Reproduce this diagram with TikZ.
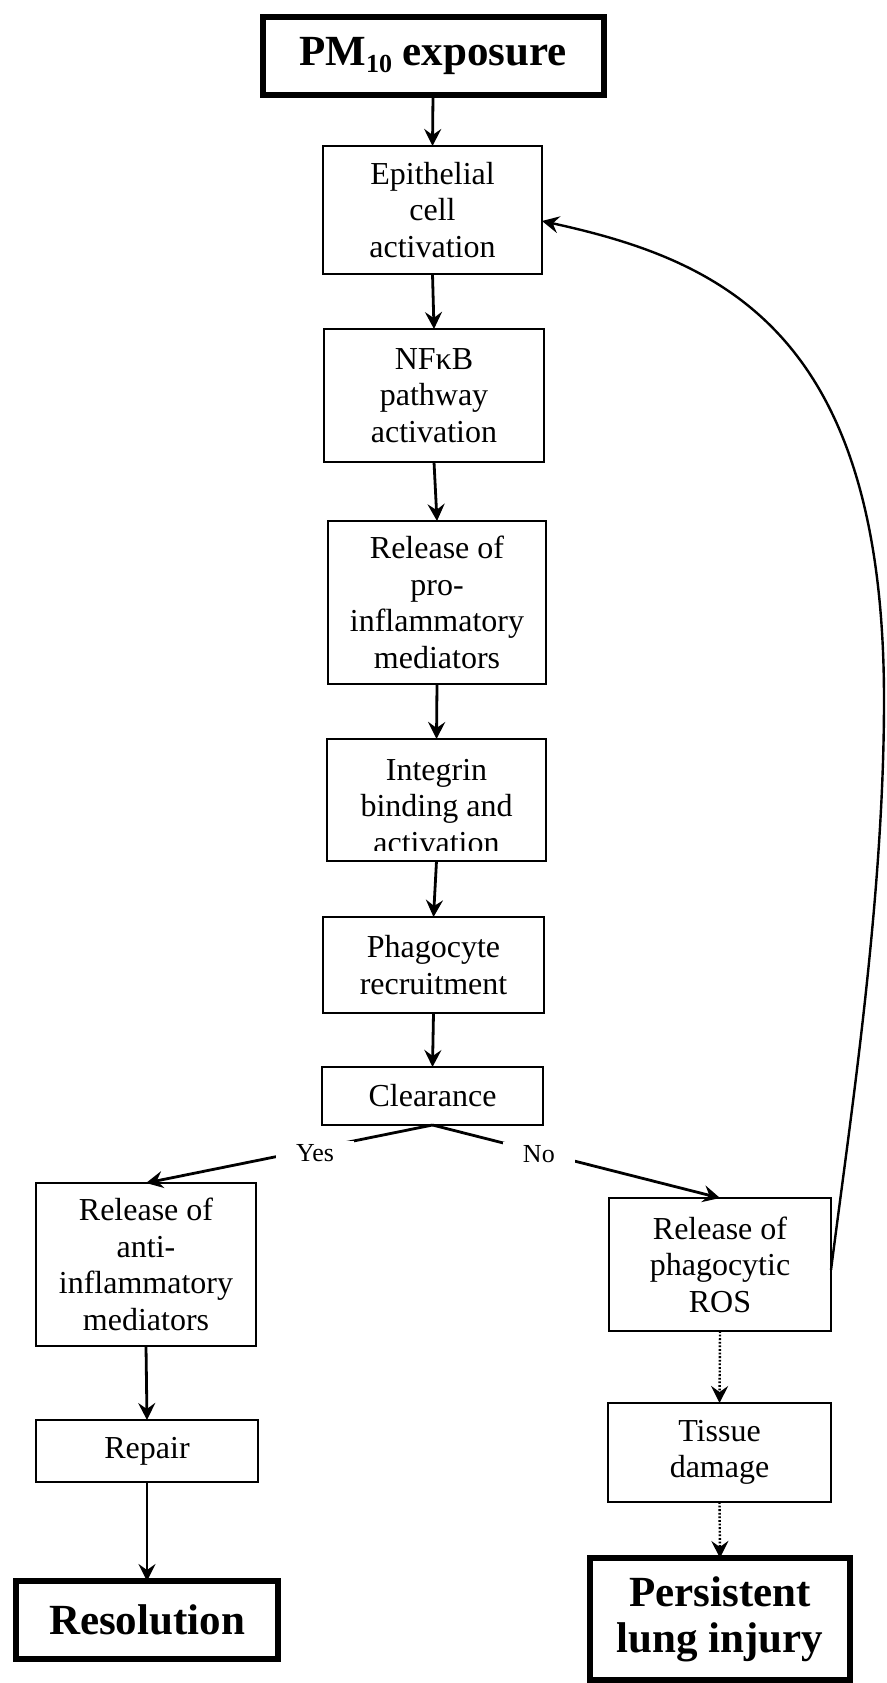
\documentclass[tikz,border=0pt]{standalone}
\usepackage{fontspec}
\setmainfont{Liberation Serif}
\usetikzlibrary{arrows.meta}
\tikzset{
  box/.style={draw, line width=2.6pt, inner sep=0pt, outer sep=0pt, align=center,
    font=\fontsize{32}{36.5}\selectfont},
  bigbox/.style={draw, line width=6pt, inner sep=0pt, outer sep=0pt, align=center,
    font=\fontsize{43}{46}\selectfont\bfseries},
  plaintext/.style={inner sep=0pt, outer sep=0pt, align=center,
    font=\fontsize{32}{36.5}\selectfont},
  conn/.style={line width=2.8pt, -{Stealth[length=17pt,width=17pt,inset=6pt]}},
  dotconn/.style={line width=2.4pt, dash pattern=on 1.8pt off 1.8pt,
    -{Stealth[length=17pt,width=17pt,inset=6pt]}},
  curveconn/.style={line width=2.4pt, -{Stealth[length=17pt,width=17pt,inset=6pt]}},
  lbl/.style={fill=white, inner xsep=20pt, inner ysep=3pt, font=\fontsize{26}{28}\selectfont},
}
\begin{document}
\begin{tikzpicture}[x=1pt, y=-1pt]
\useasboundingbox (0,0) rectangle (886,1683);

% central column
\node[bigbox, minimum width=341pt, minimum height=78pt] (pm) at (433,56.5)
  {PM\raisebox{-6pt}{\fontsize{26}{26}\selectfont 10} exposure};
\node[box, minimum width=219pt, minimum height=128pt] (epi) at (432.5,210)
  {Epithelial\\cell\\activation};
\node[box, minimum width=220pt, minimum height=133pt] (nfkb) at (434,395.5)
  {NF\char"03BA B\\pathway\\activation};
\node[box, minimum width=218pt, minimum height=163pt] (pro) at (437,602.5)
  {Release of\\pro-\\inflammatory\\mediators};
\node[box, minimum width=219pt, minimum height=122pt] (integ) at (436.5,800) {};
\node[plaintext] (integt) at (436.5,806.5) {Integrin\\binding and\\activation};
\fill[white] ([xshift=1.5pt,yshift=1.4pt]integ.south west) rectangle ([xshift=-1.5pt,yshift=10pt]integ.south east);
\node[box, minimum width=221pt, minimum height=96pt] (phago) at (433.5,965)
  {Phagocyte\\recruitment};
\node[box, minimum width=221pt, minimum height=58pt] (clear) at (432.5,1096)
  {Clearance};

% left column
\node[box, minimum width=220pt, minimum height=163pt] (anti) at (146,1264.5)
  {Release of\\anti-\\inflammatory\\mediators};
\node[box, minimum width=222pt, minimum height=62pt] (repair) at (147,1451)
  {Repair};
\node[bigbox, minimum width=262pt, minimum height=78pt] (resol) at (147,1620)
  {Resolution};

% right column
\node[box, minimum width=222pt, minimum height=133pt] (ros) at (720,1264.5)
  {Release of\\phagocytic\\ROS};
\node[box, minimum width=223pt, minimum height=99pt] (tissue) at (719.5,1452.5)
  {Tissue\\damage};
\node[bigbox, minimum width=260pt, minimum height=122pt] (persist) at (720,1619)
  {Persistent\\lung injury};

% connectors
\draw[conn] (pm.south) -- (epi.north);
\draw[conn] (epi.south) -- (nfkb.north);
\draw[conn] (nfkb.south) -- (pro.north);
\draw[conn] (pro.south) -- (integ.north);
\draw[conn] (integ.south) -- (phago.north);
\draw[conn] (phago.south) -- (clear.north);
\draw[conn] (clear.south) -- node[lbl, pos=0.41, yshift=-4pt] (yes) {Yes} (anti.north);
\draw[conn] (clear.south) -- node[lbl, pos=0.37, yshift=-2pt] (no) {No} (ros.north);
\draw[conn] (anti.south) -- (repair.north);
\draw[conn] (repair.south) -- (resol.north);
\draw[dotconn] (ros.south) -- (tissue.north);
\draw[dotconn] (tissue.south) -- (persist.north);
\draw[curveconn] ([yshift=-5.5pt]ros.east) .. controls (850,1120) and (884,900) .. (884,700)
  .. controls (884,330) and (720,260) .. ([yshift=-11pt]epi.east);
\end{tikzpicture}
\end{document}
